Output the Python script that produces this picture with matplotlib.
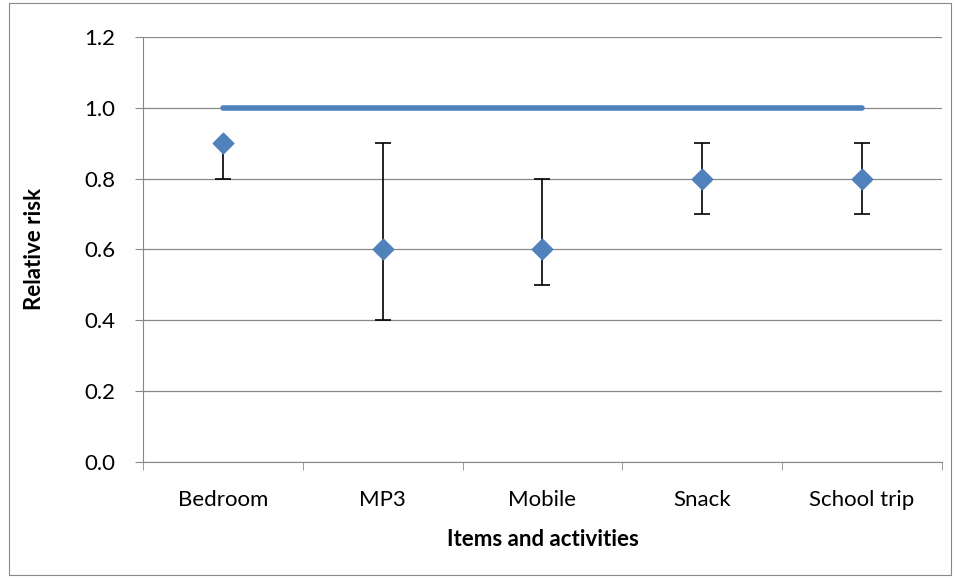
import matplotlib.pyplot as plt
from matplotlib.patches import Rectangle
import numpy as np

categories = ["Bedroom", "MP3", "Mobile", "Snack", "School trip"]
risk = [0.9, 0.6, 0.6, 0.8, 0.8]
lower = [0.8, 0.4, 0.5, 0.7, 0.7]
upper = [0.9, 0.9, 0.8, 0.9, 0.9]
reference = [1.0, 1.0, 1.0, 1.0, 1.0]

plt.rcParams["font.family"] = ["Lato", "DejaVu Sans"]
plt.rcParams["font.size"] = 16

fig = plt.figure(figsize=(9.57, 5.78), dpi=100)
fig.patches.append(Rectangle((0.009, 0.005), 0.985, 0.99, transform=fig.transFigure,
                             fill=False, edgecolor="#888888", linewidth=0.8))
ax = fig.add_axes([0.1494, 0.2007, 0.8349, 0.7353])

x = np.arange(len(categories))
risk_a = np.array(risk)
yerr = [risk_a - np.array(lower), np.array(upper) - risk_a]

ax.plot(x, reference, color="#4F81BD", linewidth=4, solid_capstyle="round", zorder=2)
ax.errorbar(x, risk, yerr=yerr, fmt="none", ecolor="black", elinewidth=1.2,
            capsize=6, capthick=1.2, zorder=3)
ax.scatter(x, risk, marker="D", s=110, color="#4F81BD", edgecolor="#4F81BD", zorder=4)

ax.set_xlim(-0.5, len(categories) - 0.5)
ax.set_ylim(0, 1.2)
ax.set_yticks(np.arange(0, 1.21, 0.2))
ax.set_yticklabels([f"{v:.1f}" for v in np.arange(0, 1.21, 0.2)])
ax.set_xticks(x)
ax.set_xticklabels(categories)
ax.set_xticks(np.arange(-0.5, len(categories), 1.0), minor=True)
ax.tick_params(axis="x", which="major", length=0, pad=20)
ax.tick_params(axis="x", which="minor", length=6, color="#888888")
ax.tick_params(axis="y", length=6, color="#888888", pad=14)

ax.grid(axis="y", color="#888888", linewidth=0.9)
ax.set_axisbelow(True)
for side in ["top", "right"]:
    ax.spines[side].set_visible(False)
for side in ["left", "bottom"]:
    ax.spines[side].set_color("#888888")

ax.set_xlabel("Items and activities", fontweight="bold", fontsize=16, labelpad=14)
ax.set_ylabel("Relative risk", fontweight="bold", fontsize=16, labelpad=28)

fig.savefig("out.png", dpi=100)
